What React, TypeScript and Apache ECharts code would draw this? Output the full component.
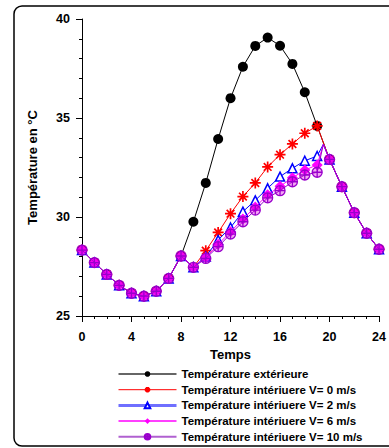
import React, { useEffect, useRef } from "react";
import * as echarts from "echarts";

const hours = [0, 1, 2, 3, 4, 5, 6, 7, 8, 9, 10, 11, 12, 13, 14, 15, 16, 17, 18, 19, 20, 21, 22, 23, 24];
const exterior = [28.33, 27.7, 27.1, 26.55, 26.15, 26.0, 26.25, 26.9, 28.03, 29.76, 31.72, 33.94, 36.0, 37.59, 38.64, 39.06, 38.65, 37.73, 36.3, 34.6, 32.91, 31.53, 30.22, 29.18, 28.37];
const interiorV0 = [28.33, 27.7, 27.1, 26.55, 26.15, 26.0, 26.25, 26.9, 28.03, 27.46, 28.3, 29.22, 30.17, 31.03, 31.72, 32.53, 33.15, 33.69, 34.23, 34.6, 32.91, 31.53, 30.22, 29.18, 28.37];
const interiorV2 = [28.33, 27.7, 27.1, 26.55, 26.15, 26.0, 26.25, 26.9, 28.03, 27.46, 28.0, 28.84, 29.47, 30.27, 30.84, 31.45, 32.04, 32.46, 32.84, 33.08, 32.91, 31.53, 30.22, 29.18, 28.37];
const interiorV6 = [28.33, 27.7, 27.1, 26.55, 26.15, 26.0, 26.25, 26.9, 28.03, 27.46, 27.95, 28.62, 29.25, 29.9, 30.5, 31.12, 31.55, 31.98, 32.37, 32.63, 32.91, 31.53, 30.22, 29.18, 28.37];
const interiorV10 = [28.33, 27.7, 27.1, 26.55, 26.15, 26.0, 26.25, 26.9, 28.03, 27.46, 27.91, 28.5, 29.14, 29.76, 30.35, 30.97, 31.33, 31.78, 32.12, 32.26, 32.91, 31.53, 30.22, 29.18, 28.37];
// extra unmarked point where interior curves peak before converging
const peakHour = 19.5;
const peakValue = 33.67;

const seriesNames = [
  "Température extérieure",
  "Température intériuere V= 0 m/s",
  "Température intériuere V= 2 m/s",
  "Température intériuere V= 6 m/s",
  "Température intériuere V= 10 m/s",
];

const xTicks = { min: 0, max: 24, interval: 4 };
const yTicks = { min: 25, max: 40, interval: 5 };

const ASTERISK = "path://M5 0L5 10M0 5L10 5M1.5 1.5L8.5 8.5M1.5 8.5L8.5 1.5";
const CIRCLE_PLUS = "path://M0 5A5 5 0 1 0 10 5A5 5 0 1 0 0 5ZM0 5L10 5M5 0L5 10";

function pairs(values: number[], withPeak: boolean) {
  const out: any[] = [];
  hours.forEach((h, i) => {
    out.push([h, values[i]]);
    if (withPeak && h === 19) out.push({ value: [peakHour, peakValue], symbol: "none" });
  });
  return out;
}

export default function App() {
  const ref = useRef<HTMLDivElement>(null);
  useEffect(() => {
    if (!ref.current) return;
    const chart = echarts.init(ref.current, null, { renderer: "svg" });
    const font = { fontFamily: "Arial, 'Liberation Sans', sans-serif", fontWeight: "bold" as const, color: "#000" };
    chart.setOption({
      animation: false,
      backgroundColor: "#fff",
      graphic: [
        {
          type: "rect",
          shape: { x: 14, y: 6, width: 420, height: 440, r: 8 },
          style: { fill: "none", stroke: "#000", lineWidth: 1.5 },
          silent: true,
          z: -1,
        },
      ],
      grid: { left: 82, right: 7, top: 19, bottom: 132, containLabel: false },
      xAxis: {
        type: "value",
        min: xTicks.min,
        max: xTicks.max,
        interval: xTicks.interval,
        name: "Temps",
        nameLocation: "middle",
        nameGap: 31,
        nameTextStyle: { ...font, fontSize: 13 },
        axisLine: { show: true, lineStyle: { color: "#000", width: 1 } },
        axisTick: { show: true, inside: false, length: 6, lineStyle: { color: "#000" } },
        minorTick: { show: true, splitNumber: 4, length: 3, lineStyle: { color: "#000" } },
        splitLine: { show: false },
        axisLabel: { ...font, fontSize: 12.5, margin: 14 },
      },
      yAxis: {
        type: "value",
        min: yTicks.min,
        max: yTicks.max,
        interval: yTicks.interval,
        name: "Température en °C",
        nameLocation: "middle",
        nameGap: 43,
        nameTextStyle: { ...font, fontSize: 13 },
        axisLine: { show: true, lineStyle: { color: "#000", width: 1 } },
        axisTick: { show: true, inside: false, length: 6, lineStyle: { color: "#000" } },
        minorTick: { show: true, splitNumber: 5, length: 3, lineStyle: { color: "#000" } },
        splitLine: { show: false },
        axisLabel: { ...font, fontSize: 12.5, margin: 12 },
      },
      legend: {
        orient: "vertical",
        left: 117,
        top: 368,
        padding: 0,
        itemWidth: 58,
        itemHeight: 7,
        itemGap: 3.7,
        textStyle: { ...font, fontSize: 11.5, lineHeight: 12 },
        data: [
          { name: seriesNames[0], lineStyle: { color: "#333", width: 1.5 } },
          { name: seriesNames[1], lineStyle: { color: "#ff0000", width: 1 } },
          { name: seriesNames[2], lineStyle: { color: "#6f6fff", width: 3 } },
          { name: seriesNames[3], lineStyle: { color: "#ff00ff", width: 1.5 } },
          { name: seriesNames[4], lineStyle: { color: "#b060d0", width: 2 } },
        ],
      },
      series: [
        {
          name: seriesNames[0],
          type: "line",
          data: pairs(exterior, false),
          symbol: "circle",
          symbolSize: 10,
          itemStyle: { color: "#000" },
          lineStyle: { color: "#000", width: 1 },
          emphasis: { disabled: true },
          z: 2,
        },
        {
          name: seriesNames[1],
          type: "line",
          data: pairs(interiorV0, false),
          symbol: ASTERISK,
          symbolSize: 11,
          itemStyle: { color: "#ff0000", borderColor: "#ff0000", borderWidth: 1.7 },
          lineStyle: { color: "#ff0000", width: 1 },
          emphasis: { disabled: true },
          z: 3,
        },
        {
          name: seriesNames[2],
          type: "line",
          data: pairs(interiorV2, true),
          symbol: "triangle",
          symbolSize: 9,
          itemStyle: { color: "#ffffff", borderColor: "#0000ff", borderWidth: 1.5 },
          lineStyle: { color: "#0000ff", width: 1 },
          emphasis: { disabled: true },
          z: 4,
        },
        {
          name: seriesNames[3],
          type: "line",
          data: pairs(interiorV6, true),
          symbol: "diamond",
          symbolSize: 11,
          itemStyle: { color: "#ff00ff" },
          lineStyle: { color: "#ff00ff", width: 1 },
          emphasis: { disabled: true },
          z: 5,
        },
        {
          name: seriesNames[4],
          type: "line",
          data: pairs(interiorV10, true),
          symbol: CIRCLE_PLUS,
          symbolSize: 10,
          itemStyle: { color: "rgba(220,0,220,0.35)", borderColor: "#9900cc", borderWidth: 1.3 },
          lineStyle: { color: "#9900cc", width: 1 },
          emphasis: { disabled: true },
          z: 6,
        },
      ],
    });
    return () => chart.dispose();
  }, []);
  return (
    <div
      ref={ref}
      style={{ position: "fixed", left: 0, top: 0, width: 389, height: 448, background: "#fff" }}
    />
  );
}
